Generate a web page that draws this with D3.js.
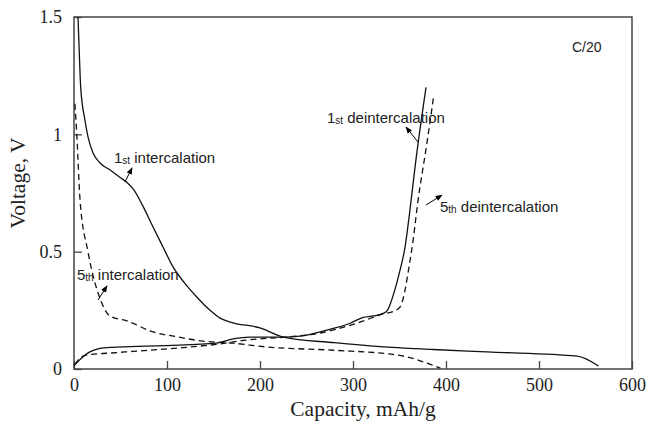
<!DOCTYPE html>
<html>
<head>
<meta charset="utf-8">
<script src="https://cdn.jsdelivr.net/npm/d3@7"></script>
<style>
  body { margin: 0; background: white; }
</style>
</head>
<body>
<div class="chart"></div>
<script>
    // 1st intercalation (solid)
    var int1Cap = [4.3, 5.7, 7.2, 11.8, 15, 20.5, 28, 40, 50, 57, 64, 74, 85, 95.7, 106.5, 119, 132, 146, 157, 168, 200, 225, 280, 329, 386, 450, 541, 564];
    var int1Volt = [1.5, 1.346, 1.2, 1.06, 0.99, 0.92, 0.878, 0.845, 0.815, 0.795, 0.765, 0.695, 0.605, 0.52, 0.435, 0.366, 0.307, 0.251, 0.217, 0.20, 0.175, 0.136, 0.112, 0.095, 0.083, 0.072, 0.055, 0.013];
    // 1st deintercalation (solid)
    var deint1Cap = [0, 6.5, 12, 17, 28, 39, 60, 100, 153, 171, 189, 225, 243, 272, 297, 311, 322, 333, 337, 345, 350.5, 356, 361, 367, 378.5];
    var deint1Volt = [0.015, 0.04, 0.06, 0.073, 0.088, 0.092, 0.095, 0.10, 0.11, 0.128, 0.136, 0.136, 0.14, 0.166, 0.195, 0.22, 0.226, 0.238, 0.25, 0.337, 0.42, 0.52, 0.67, 0.87, 1.2];
    // 5th intercalation (dashed)
    var int5Cap = [1, 3, 6.5, 15, 28, 39, 57, 85, 111, 136, 171, 207, 279, 347, 394];
    var int5Volt = [1.13, 1.0, 0.72, 0.5, 0.30, 0.225, 0.205, 0.158, 0.137, 0.12, 0.11, 0.094, 0.08, 0.06, 0.004];
    // 5th deintercalation (dashed)
    var deint5Cap = [1, 6, 14, 39, 63, 114, 153, 189, 225, 260, 304, 333, 343, 350.5, 356, 360, 364, 370, 379, 387];
    var deint5Volt = [0.02, 0.045, 0.06, 0.068, 0.075, 0.09, 0.105, 0.125, 0.135, 0.15, 0.195, 0.235, 0.245, 0.264, 0.337, 0.43, 0.53, 0.72, 0.95, 1.17];

    var xTicks = [0, 100, 200, 300, 400, 500, 600];
    var yTicks = [0, 0.5, 1, 1.5];

    var svg = d3.select(".chart")
                .append("svg")
                .attr("width", 646)
                .attr("height", 422)
                .style("background-color", "white");

    var x = d3.scaleLinear().domain([0, 600]).range([74, 632]);
    var y = d3.scaleLinear().domain([0, 1.5]).range([369, 17]);

    var serif = "'Liberation Serif', 'Times New Roman', serif";
    var sans = "'Liberation Sans', Arial, Helvetica, sans-serif";

    // arrow head
    svg.append("defs").append("marker")
       .attr("id", "head")
       .attr("viewBox", "0 0 10 10")
       .attr("refX", 9)
       .attr("refY", 5)
       .attr("markerWidth", 7)
       .attr("markerHeight", 7)
       .attr("markerUnits", "userSpaceOnUse")
       .attr("orient", "auto")
       .append("path")
       .attr("d", "M0,1 L10,5 L0,9 z")
       .attr("fill", "black");

    // axes with inward ticks
    var xAxis = svg.append("g")
       .attr("transform", "translate(0,369)")
       .call(d3.axisBottom(x).tickValues(xTicks).tickSize(-8).tickPadding(9).tickFormat(function(d){ return d; }));
    var yAxis = svg.append("g")
       .attr("transform", "translate(74,0)")
       .call(d3.axisLeft(y).tickValues(yTicks).tickSize(-8).tickPadding(12).tickFormat(function(d){ return d; }));
    [xAxis, yAxis].forEach(function(a) {
      a.select(".domain").remove();
      a.selectAll("line").attr("stroke", "#444").attr("stroke-width", 1.3);
      a.selectAll("text")
       .style("font-family", serif)
       .style("font-size", "18px")
       .attr("fill", "#222");
    });

    // frame
    svg.append("rect")
       .attr("x", x(0))
       .attr("y", y(1.5))
       .attr("width", x(600) - x(0))
       .attr("height", y(0) - y(1.5))
       .attr("fill", "none")
       .attr("stroke", "#444")
       .attr("stroke-width", 1.5);

    // curves
    var line = d3.line()
                 .x(function(d){ return x(d[0]); })
                 .y(function(d){ return y(d[1]); })
                 .curve(d3.curveMonotoneX);

    var series = [
      {cap: int1Cap, volt: int1Volt, dash: null},
      {cap: deint1Cap, volt: deint1Volt, dash: null},
      {cap: int5Cap, volt: int5Volt, dash: "6,4"},
      {cap: deint5Cap, volt: deint5Volt, dash: "6,4"}
    ];
    series.forEach(function(s) {
      svg.append("path")
         .datum(d3.zip(s.cap, s.volt))
         .attr("d", line)
         .attr("fill", "none")
         .attr("stroke", "#111")
         .attr("stroke-width", 1.3)
         .attr("stroke-dasharray", s.dash);
    });

    // curve labels: [num, suffix, rest, textX, textY, arrowFromX, arrowFromY, arrowToX, arrowToY]
    var labels = [
      ["1", "st", " intercalation", 43, 0.878, 54.8, 0.797, 62.4, 0.857],
      ["5", "th", " intercalation", 3.2, 0.38, 25.8, 0.294, 35.5, 0.354],
      ["1", "st", " deintercalation", 272, 1.05, 370, 0.967, 357, 1.031],
      ["5", "th", " deintercalation", 393.5, 0.671, 378.5, 0.699, 395.7, 0.741]
    ];
    labels.forEach(function(l) {
      var t = svg.append("text")
                 .attr("x", x(l[3]))
                 .attr("y", y(l[4]))
                 .style("font-family", sans)
                 .style("font-size", "15px")
                 .attr("fill", "#222");
      t.append("tspan").text(l[0]);
      t.append("tspan").attr("dy", 1).style("font-size", "10px").text(l[1]);
      t.append("tspan").attr("dy", -1).text(l[2]);
      svg.append("line")
         .attr("x1", x(l[5]))
         .attr("y1", y(l[6]))
         .attr("x2", x(l[7]))
         .attr("y2", y(l[8]))
         .attr("stroke", "black")
         .attr("stroke-width", 1)
         .attr("marker-end", "url(#head)");
    });

    svg.append("text")
       .attr("x", x(535.5))
       .attr("y", y(1.349))
       .style("font-family", sans)
       .style("font-size", "14px")
       .attr("fill", "#222")
       .text("C/20");

    // axis titles
    svg.append("text")
       .attr("text-anchor", "middle")
       .attr("x", 363)
       .attr("y", 416)
       .style("font-family", serif)
       .style("font-size", "21.5px")
       .attr("fill", "#222")
       .text("Capacity, mAh/g");
    svg.append("text")
       .attr("text-anchor", "middle")
       .attr("transform", "translate(25,183) rotate(-90)")
       .style("font-family", serif)
       .style("font-size", "21.5px")
       .attr("fill", "#222")
       .text("Voltage, V");
</script>
</body>
</html>
